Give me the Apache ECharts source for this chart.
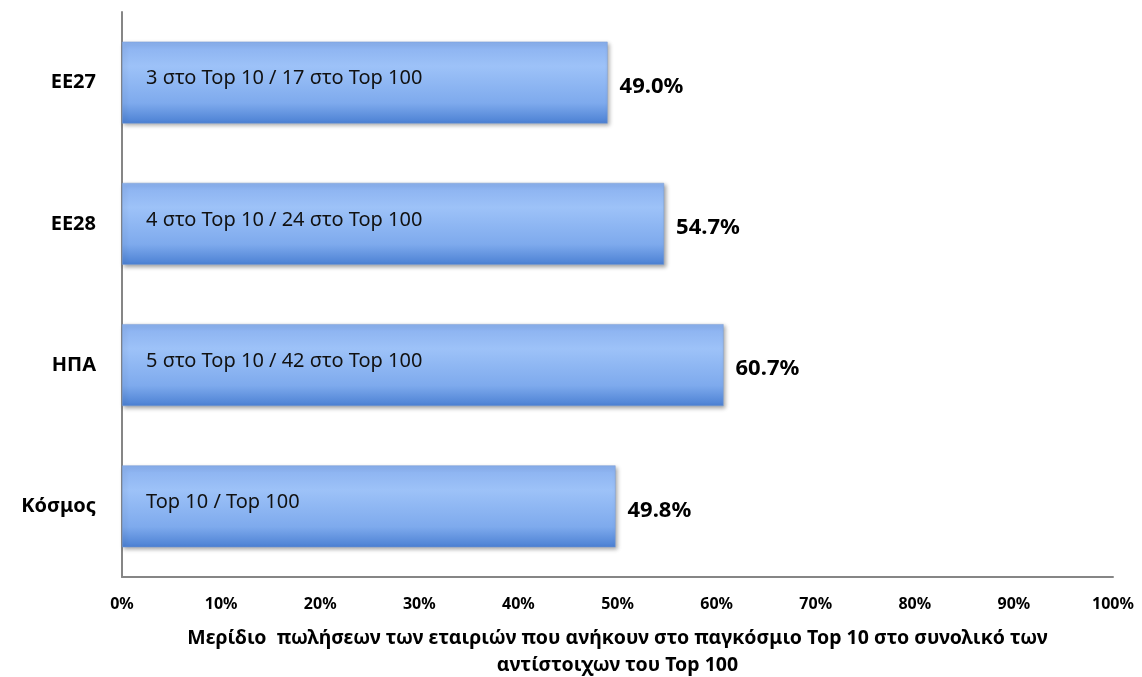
<!DOCTYPE html>
<html>
<head>
<meta charset="utf-8">
<script src="https://cdn.jsdelivr.net/npm/echarts@6/dist/echarts.min.js"></script>
<style>
  html, body { margin: 0; padding: 0; background: #fff; }
  #chartDiv { width: 1142px; height: 677px; }
</style>
</head>
<body>
<div id="chartDiv"></div>
<script>
// regions and share of Top 10 sales in the Top 100 total (%)
var regions = ["EE27", "EE28", "ΗΠΑ", "Κόσμος"];
var shares = [49.0, 54.7, 60.7, 49.8];
var barNotes = [
  "3 στο Top 10 / 17 στο Top 100",
  "4 στο Top 10 / 24 στο Top 100",
  "5 στο Top 10 / 42 στο Top 100",
  "Top 10 / Top 100"
];
var xTicks = [0, 10, 20, 30, 40, 50, 60, 70, 80, 90, 100];
var axisTitle = "Μερίδιο  πωλήσεων των εταιριών που ανήκουν στο παγκόσμιο Top 10 στο συνολικό των\nαντίστοιχων του Top 100";

var font = "'Noto Sans', 'DejaVu Sans', sans-serif";
var myChart = echarts.init(document.getElementById("chartDiv"));

var barFill = new echarts.graphic.LinearGradient(0, 0, 0, 1, [
  { offset: 0, color: "#89b0ef" },
  { offset: 0.3, color: "#9dc2f8" },
  { offset: 0.75, color: "#7eaaed" },
  { offset: 1, color: "#4b80d3" }
]);

var option = {
  animation: false,
  backgroundColor: "#fff",
  grid: { left: 122, right: 29, top: 12, bottom: 100, outerBoundsMode: "none" },
  xAxis: {
    type: "value",
    min: xTicks[0],
    max: xTicks[xTicks.length - 1],
    interval: 10,
    axisLine: { show: true, lineStyle: { color: "#868686", width: 2 } },
    axisTick: { show: false },
    splitLine: { show: false },
    axisLabel: {
      margin: 19,
      color: "#000",
      fontFamily: font,
      fontWeight: "bold",
      fontSize: 16,
      formatter: "{value}%"
    },
    name: axisTitle,
    nameLocation: "middle",
    nameGap: 48,
    nameTextStyle: {
      color: "#000",
      fontFamily: font,
      fontWeight: "bold",
      fontSize: 19.5,
      lineHeight: 27
    }
  },
  yAxis: {
    type: "category",
    data: regions,
    inverse: true,
    axisLine: { show: true, lineStyle: { color: "#868686", width: 2 } },
    axisTick: { show: false },
    axisLabel: {
      margin: 26,
      color: "#000",
      fontFamily: font,
      fontWeight: "bold",
      fontSize: 20
    }
  },
  series: [
    {
      type: "bar",
      data: shares,
      barCategoryGap: "42%",
      itemStyle: {
        color: barFill,
        borderColor: "#7a9fd6",
        borderWidth: 0.5,
        shadowColor: "rgba(0,0,0,0.35)",
        shadowBlur: 4,
        shadowOffsetX: 2,
        shadowOffsetY: 2
      },
      label: {
        show: true,
        position: "right",
        distance: 12,
        offset: [0, 4],
        color: "#000",
        fontFamily: font,
        fontWeight: "bold",
        fontSize: 22,
        formatter: function (p) { return p.value.toFixed(1) + "%"; }
      }
    },
    {
      type: "bar",
      data: shares,
      barGap: "-100%",
      barCategoryGap: "42%",
      silent: true,
      itemStyle: { color: "transparent" },
      label: {
        show: true,
        position: "insideLeft",
        distance: 24,
        offset: [0, -4],
        color: "#111",
        fontFamily: font,
        fontSize: 20,
        formatter: function (p) { return barNotes[p.dataIndex]; }
      }
    }
  ]
};

myChart.setOption(option);
window.addEventListener("resize", function () {
  myChart.resize();
});
</script>
</body>
</html>
